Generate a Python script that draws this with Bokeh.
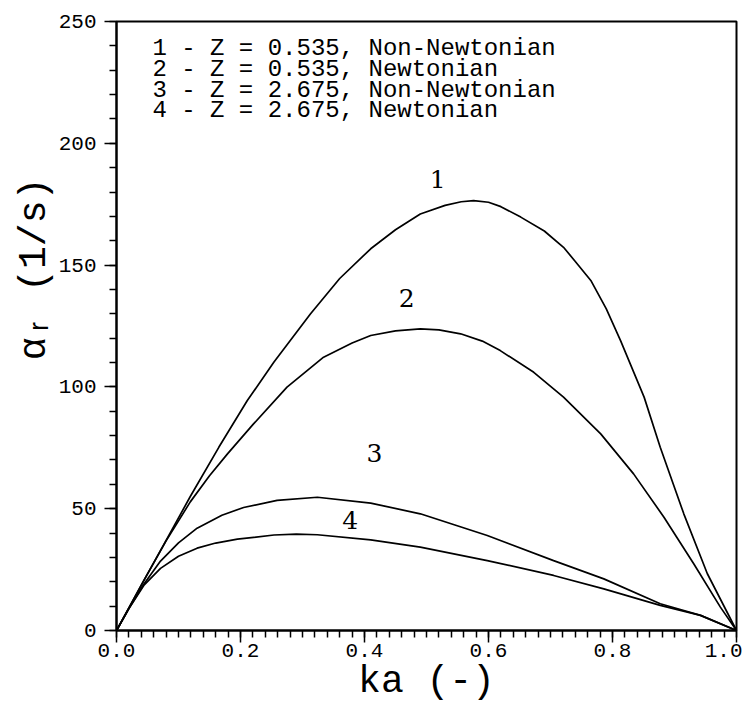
import math
from bokeh.plotting import figure
from bokeh.models import FixedTicker, PrintfTickFormatter, Label, Range1d
from bokeh.embed import file_html
from bokeh.resources import INLINE

# ---- data ----
ka1 = [0, 0.044, 0.08, 0.119, 0.165, 0.211, 0.254, 0.313, 0.36, 0.41, 0.45, 0.49,
       0.53, 0.556, 0.576, 0.6, 0.62, 0.652, 0.69, 0.721, 0.74, 0.765, 0.79, 0.813, 0.851,
       0.877, 0.915, 0.953, 1.0]
a1 = [0, 20.5, 37.0, 55.0, 75.2, 94.4, 110.2, 130.0, 144.5, 156.7, 164.5, 171.0,
      174.5, 176.0, 176.5, 175.8, 174.0, 169.7, 164.0, 157.3, 151.5, 143.7, 132.0, 119.0, 95.8,
      75.2, 47.9, 23.3, 0]

ka2 = [0, 0.044, 0.08, 0.119, 0.15, 0.179, 0.221, 0.275, 0.334, 0.38, 0.41, 0.45, 0.49,
       0.52, 0.555, 0.59, 0.619, 0.673, 0.721, 0.781, 0.834, 0.883, 0.931, 0.974, 1.0]
a2 = [0, 20.5, 36.8, 52.8, 63.5, 72.5, 84.8, 99.9, 112.2, 118.0, 121.1, 123.0, 123.8,
      123.4, 121.8, 118.8, 114.9, 106.0, 95.8, 80.7, 64.3, 46.5, 27.4, 9.6, 0]

ka3 = [0, 0.02, 0.044, 0.071, 0.1, 0.13, 0.17, 0.205, 0.259, 0.324, 0.41, 0.49,
       0.598, 0.705, 0.786, 0.877, 0.942, 1.0]
a3 = [0, 9.0, 19.0, 28.5, 36.0, 42.0, 47.3, 50.5, 53.4, 54.7, 52.3, 47.9,
      39.0, 28.7, 21.2, 11.0, 6.2, 0]

ka4 = [0, 0.02, 0.044, 0.071, 0.1, 0.13, 0.16, 0.195, 0.254, 0.29, 0.324, 0.41, 0.49,
       0.598, 0.705, 0.786, 0.877, 0.942, 1.0]
a4 = [0, 9.0, 18.5, 25.5, 30.5, 33.8, 35.9, 37.5, 39.2, 39.6, 39.3, 37.2, 34.2,
      28.7, 22.6, 17.1, 10.3, 6.2, 0]

curve_ids = ["1", "2", "3", "4"]
legend_lines = [
    "1 - Z = 0.535, Non-Newtonian",
    "2 - Z = 0.535, Newtonian",
    "3 - Z = 2.675, Non-Newtonian",
    "4 - Z = 2.675, Newtonian",
]
x_title = "ka (-)"
y_title = "\u03b1\u1d63 (1/s)"
x_ticks = [0.0, 0.2, 0.4, 0.6, 0.8, 1.0]
y_ticks = [0, 50, 100, 150, 200, 250]
x_minor = [i * 0.02 for i in range(51)]
y_minor = [i * 10 for i in range(26)]

MONO = "Liberation Mono"
SERIF = "DejaVu Serif"

p = figure(width=742, height=706, x_range=Range1d(0, 1), y_range=Range1d(0, 250),
           output_backend="svg", toolbar_location=None,
           min_border_left=116, min_border_right=6, min_border_top=21, min_border_bottom=76)
p.background_fill_color = "white"
p.border_fill_color = "white"
p.xgrid.visible = False
p.ygrid.visible = False
p.outline_line_color = "black"
p.outline_line_width = 2

for ax in (p.xaxis[0], p.yaxis[0]):
    ax.axis_line_color = "black"
    ax.axis_line_width = 2
    ax.major_tick_line_color = "black"
    ax.major_tick_line_width = 1.5
    ax.minor_tick_line_color = "black"
    ax.minor_tick_line_width = 1.5
    ax.major_tick_out = 12
    ax.major_tick_in = 0
    ax.minor_tick_out = 7
    ax.minor_tick_in = 0
    ax.major_label_text_font = MONO
    ax.major_label_text_font_size = "21px"
    ax.major_label_text_color = "black"
    ax.axis_label_text_font = MONO
    ax.axis_label_text_font_size = "38px"
    ax.axis_label_text_font_style = "normal"
    ax.axis_label_text_color = "black"

p.xaxis.ticker = FixedTicker(ticks=x_ticks, minor_ticks=x_minor)
p.yaxis.ticker = FixedTicker(ticks=y_ticks, minor_ticks=y_minor)
p.xaxis.formatter = PrintfTickFormatter(format="%.1f")
p.yaxis.formatter = PrintfTickFormatter(format="%d")
p.xaxis.major_label_standoff = 1
p.yaxis.major_label_standoff = 8

p.xaxis.axis_label = x_title
p.xaxis.axis_label_standoff = 0
# leading no-break spaces push the rotated title upward along the axis
p.yaxis.axis_label = "\u00a0" * 5 + y_title
p.yaxis.axis_label_standoff = 0

for kx, ay in ((ka1, a1), (ka2, a2), (ka3, a3), (ka4, a4)):
    p.line(kx, ay, line_color="black", line_width=1.7)

# curve numbers
num_pos = [(0.518, 185.5), (0.468, 136.3), (0.416, 73.0), (0.377, 45.2)]
for cid, (xx, yy) in zip(curve_ids, num_pos):
    p.add_layout(Label(x=xx, y=yy, text=cid, text_align="center", text_baseline="middle",
                       text_font=SERIF, text_font_size="25px", text_color="black"))

# legend text block
leg_y = [238.9, 230.3, 221.7, 213.5]
for txt, yy in zip(legend_lines, leg_y):
    p.add_layout(Label(x=0.058, y=yy, text=txt, text_align="left", text_baseline="middle",
                       text_font=MONO, text_font_size="24px", text_color="black"))

open("out.html", "w").write(file_html(p, INLINE))
